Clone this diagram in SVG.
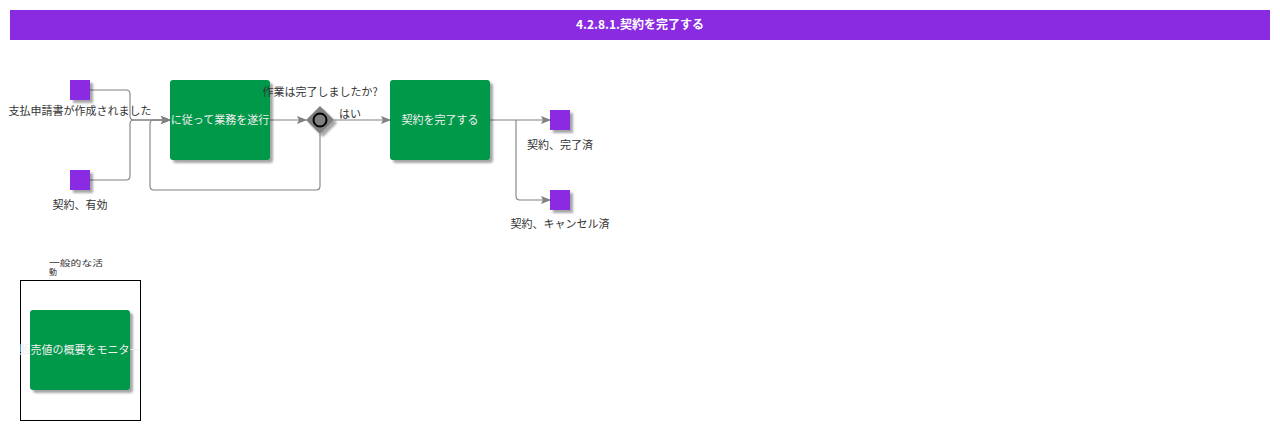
<svg xmlns="http://www.w3.org/2000/svg" width="1280" height="430" viewBox="0 0 1280 430">
<defs>
<marker id="arr" markerWidth="10" markerHeight="8" refX="9" refY="4" orient="auto" markerUnits="userSpaceOnUse">
<path d="M0,0 L10,4 L0,8 L2,4 Z" fill="#808080"/>
</marker>
<filter id="sh" x="-20%" y="-20%" width="150%" height="150%">
<feGaussianBlur in="SourceAlpha" stdDeviation="1.2"/>
<feOffset dx="3" dy="3" result="b"/>
<feComponentTransfer><feFuncA type="linear" slope="0.35"/></feComponentTransfer>
<feMerge><feMergeNode/><feMergeNode in="SourceGraphic"/></feMerge>
</filter>
</defs>
<style>
text{font-family:"Noto Sans CJK JP","Noto Sans",sans-serif;}
.lbl{font-size:11px;fill:#333;text-anchor:middle;}
.task{fill:#00984A;filter:url(#sh);}
.tt{font-size:11px;fill:#f0f0f0;text-anchor:middle;}
.ev{fill:#8A2BE2;filter:url(#sh);}
.con{fill:none;stroke:#808080;stroke-width:1.1;}
</style>
<rect width="1280" height="430" fill="#fff"/>
<g id="title">
<rect x="10" y="10" width="1260" height="30" fill="#8A2BE2"/>
<text x="640" y="29" font-size="12" font-weight="bold" fill="#fff" text-anchor="middle">4.2.8.1.契約を完了する</text>
</g>
<g id="connectors">
<path class="con" d="M90,90 H126 Q130,90 130,94 V116 Q130,120 134,120 H170" marker-end="url(#arr)"/>
<path class="con" d="M90,180 H126 Q130,180 130,176 V124 Q130,120 134,120 H170" marker-end="url(#arr)"/>
<path class="con" d="M270,120 H306" marker-end="url(#arr)"/>
<path class="con" d="M320,134 V186 Q320,190 316,190 H154 Q150,190 150,186 V124 Q150,120 154,120 H170" marker-end="url(#arr)"/>
<path class="con" d="M334,120 H390" marker-end="url(#arr)"/>
<text x="350" y="118" font-size="11" fill="#333" text-anchor="middle">はい</text>
<path class="con" d="M490,120 H550" marker-end="url(#arr)"/>
<path class="con" d="M516,120 V196 Q516,200 520,200 H550" marker-end="url(#arr)"/>
</g>
<g id="start1">
<rect class="ev" x="70" y="80" width="20" height="20"/>
<text class="lbl" x="80" y="115">支払申請書が作成されました</text>
</g>
<g id="start2">
<rect class="ev" x="70" y="170" width="20" height="20"/>
<text class="lbl" x="80" y="209">契約、有効</text>
</g>
<g id="task1">
<rect class="task" x="170" y="80" width="100" height="80" rx="3"/>
<text class="tt" x="220" y="124">に従って業務を遂行</text>
</g>
<g id="gateway">
<path d="M320,106 L334,120 L320,134 L306,120 Z" fill="#808080" filter="url(#sh)"/>
<circle cx="320" cy="120" r="6.5" fill="#808080" stroke="#000" stroke-width="2"/>
<text class="lbl" x="320" y="96">作業は完了しましたか?</text>
</g>
<g id="task2">
<rect class="task" x="390" y="80" width="100" height="80" rx="3"/>
<text class="tt" x="440" y="124">契約を完了する</text>
</g>
<g id="end1">
<rect class="ev" x="550" y="110" width="20" height="20"/>
<text class="lbl" x="560" y="149">契約、完了済</text>
</g>
<g id="end2">
<rect class="ev" x="550" y="190" width="20" height="20"/>
<text class="lbl" x="560" y="228">契約、キャンセル済</text>
</g>
<g id="group">
<rect x="20.5" y="280.5" width="120" height="140" fill="none" stroke="#000" stroke-width="1"/>
<text x="49" y="266" font-size="8" fill="#333" textLength="54" lengthAdjust="spacingAndGlyphs">一般的な活</text>
<text x="49" y="275" font-size="8" fill="#333">動</text>
</g>
<g id="task3">
<rect class="task" x="30" y="310" width="100" height="80" rx="3"/>
<text class="tt" x="80" y="354">販売値の概要をモニター</text>
</g>
</svg>
